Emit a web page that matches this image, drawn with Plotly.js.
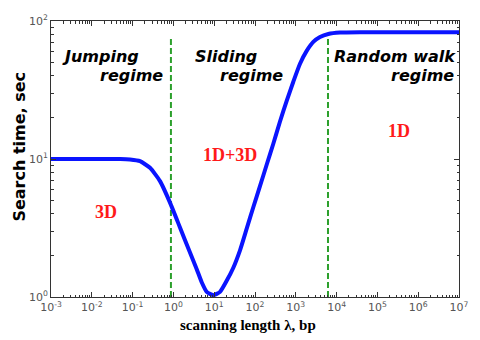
<!DOCTYPE html>
<html>
<head>
<meta charset="utf-8">
<script src="https://cdn.plot.ly/plotly-3.0.1.min.js"></script>
<style>
  html, body { margin: 0; padding: 0; background: #fff; }
  #chart { width: 480px; height: 340px; }
</style>
</head>
<body>
<div id="chart"></div>
<script>
// scanning length (bp) and search time (sec)
const lambda = [0.001, 0.01, 0.05, 0.0863, 0.152, 0.267, 0.47, 0.826, 1.45, 2.55, 3.73, 4.94,
                6.55, 9.5, 13.9, 20.2, 29.4, 42.9, 62.6, 90.8, 133, 194, 281, 410, 598, 869,
                1268, 1849, 2685, 3917, 6266, 12100, 37500, 1e6, 1e7];
const searchTime = [10, 10, 10, 9.91, 9.64, 8.63, 6.91, 4.83, 3.19, 2.10, 1.59, 1.28,
                    1.09, 1.03, 1.09, 1.31, 1.63, 2.18, 3.13, 4.47, 6.38, 9.12, 12.9, 18.7, 26.4, 36.3,
                    49.0, 60.7, 70.5, 76.5, 80.5, 82.4, 82.9, 83, 83];

// regime boundaries (green dashed lines)
const boundaryX = [0.87, 6150];
const boundaryTop = [77, 81];

const xTickVals = [1e-3, 1e-2, 1e-1, 1e0, 1e1, 1e2, 1e3, 1e4, 1e5, 1e6, 1e7];
const xTickText = ['10<sup>-3</sup>', '10<sup>-2</sup>', '10<sup>-1</sup>', '10<sup>0</sup>',
                   '10<sup>1</sup>', '10<sup>2</sup>', '10<sup>3</sup>', '10<sup>4</sup>',
                   '10<sup>5</sup>', '10<sup>6</sup>', '10<sup>7</sup>'];
const yTickVals = [1, 10, 100];
const yTickText = ['10<sup>0</sup>', '10<sup>1</sup>', '10<sup>2</sup>'];

// minor ticks at 2..9 within each decade
const minorMult = [2, 3, 4, 5, 6, 7, 8, 9];
const xMinor = xTickVals.slice(0, -1).flatMap(d => minorMult.map(m => m * d));
const yMinor = yTickVals.slice(0, -1).flatMap(d => minorMult.map(m => m * d));

const traces = boundaryX.map((bx, i) => ({
    x: [bx, bx],
    y: [1, boundaryTop[i]],
    mode: 'lines',
    type: 'scatter',
    line: { color: '#2ca02c', width: 2, dash: '6px,3px' },
    hoverinfo: 'skip'
}));

traces.push({
    x: lambda,
    y: searchTime,
    mode: 'lines',
    type: 'scatter',
    line: { color: '#0a14ff', width: 4, shape: 'spline', smoothing: 0.5 }
});

const sansBI = { family: 'DejaVu Sans', size: 16, color: '#000', weight: 'bold', style: 'italic' };
const serifRed = { family: 'Liberation Serif', size: 18, color: '#ff1a1a', weight: 'bold' };

function label(text, x, y, xanchor, font) {
    return { text, x, y, xref: 'paper', yref: 'paper', xanchor, yanchor: 'middle',
             showarrow: false, font };
}

const axisCommon = {
    type: 'log',
    showgrid: false,
    zeroline: false,
    showline: true,
    linecolor: '#333',
    linewidth: 1,
    mirror: 'allticks',
    ticks: 'inside',
    ticklen: 5,
    tickcolor: '#333',
    tickmode: 'array',
    tickfont: { family: 'DejaVu Sans', size: 11, color: '#555' }
};

const layout = {
    width: 480,
    height: 340,
    margin: { l: 51, r: 21, t: 21, b: 43 },
    paper_bgcolor: '#fff',
    plot_bgcolor: '#fff',
    showlegend: false,
    xaxis: Object.assign({}, axisCommon, {
        range: [-3, 7],
        tickvals: xTickVals,
        ticktext: xTickText,
        minor: { tickmode: 'array', tickvals: xMinor, ticks: 'inside', ticklen: 2.5,
                 tickcolor: '#333', showgrid: false }
    }),
    yaxis: Object.assign({}, axisCommon, {
        range: [0, 2],
        tickvals: yTickVals,
        ticktext: yTickText,
        minor: { tickmode: 'array', tickvals: yMinor, ticks: 'inside', ticklen: 2.5,
                 tickcolor: '#333', showgrid: false }
    }),
    annotations: [
        label('Jumping', 0.022, 0.870, 'left', sansBI),
        label('regime', 0.279, 0.801, 'right', sansBI),
        label('Sliding', 0.348, 0.870, 'left', sansBI),
        label('regime', 0.574, 0.801, 'right', sansBI),
        label('Random walk', 0.689, 0.870, 'left', sansBI),
        label('regime', 0.993, 0.801, 'right', sansBI),
        label('1D+3D', 0.4375, 0.514, 'center', serifRed),
        label('3D', 0.1336, 0.308, 'center', serifRed),
        label('1D', 0.854, 0.601, 'center', serifRed),
        { text: 'Search time, sec', x: -0.076, y: 0.545, xref: 'paper', yref: 'paper',
          xanchor: 'center', yanchor: 'middle', textangle: -90, showarrow: false,
          font: { family: 'DejaVu Sans', size: 16, color: '#000', weight: 'bold' } },
        { text: 'scanning length λ, bp', x: 0.484, y: -0.101, xref: 'paper', yref: 'paper',
          xanchor: 'center', yanchor: 'middle', showarrow: false,
          font: { family: 'Liberation Serif', size: 15, color: '#000', weight: 'bold' } }
    ]
};

Plotly.newPlot('chart', traces, layout, { staticPlot: true });
</script>
</body>
</html>
